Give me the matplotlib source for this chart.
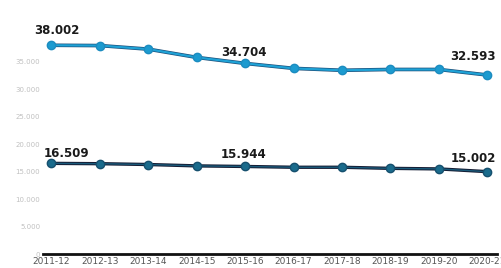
import matplotlib.pyplot as plt
import numpy as np

years = ["2011-12", "2012-13", "2013-14", "2014-15", "2015-16",
         "2016-17", "2017-18", "2018-19", "2019-20", "2020-21"]
top_values = [38002, 37950, 37300, 35800, 34704, 33800, 33450, 33600, 33600, 32593]
bottom_values = [16509, 16450, 16300, 16050, 15944, 15800, 15800, 15600, 15500, 15002]
y_ticks = [0, 5000, 10000, 15000, 20000, 25000, 30000, 35000]
labels_top = {0: "38.002", 4: "34.704", 9: "32.593"}
labels_bottom = {0: "16.509", 4: "15.944", 9: "15.002"}

# label offsets in points (dx, dy) from the marker
offs_top = {0: (4, 6), 4: (-1, 3.5), 9: (-10, 8.5)}
offs_bottom = {0: (11, 2.5), 4: (-1, 4), 9: (-10, 5)}

fig = plt.figure(figsize=(5.01, 2.68), dpi=100)
ax = fig.add_axes([0.086, 0.052, 0.906, 0.82])

x = np.arange(len(years))
ax.plot(x, top_values, color="#1b4f7a", lw=2.6, zorder=2)
ax.plot(x, top_values, color="#1fa2d6", lw=1.6, marker="o", ms=6,
        mfc="#1c9bd0", mec="#1c8cc0", zorder=3)
ax.plot(x, bottom_values, color="#141c33", lw=2.4, zorder=2)
ax.plot(x, bottom_values, color="#1a5a7a", lw=1.0, marker="o", ms=6,
        mfc="#1a6b8c", mec="#16506e", zorder=3)

for i, t in labels_top.items():
    ax.annotate(t, (x[i], top_values[i]), xytext=offs_top[i], textcoords="offset points",
                ha="center", va="bottom", fontsize=8.5, fontweight="bold", color="#1a1a1a")
for i, t in labels_bottom.items():
    ax.annotate(t, (x[i], bottom_values[i]), xytext=offs_bottom[i], textcoords="offset points",
                ha="center", va="bottom", fontsize=8.5, fontweight="bold", color="#1a1a1a")

ax.set_xlim(-0.17, 9.2)
ax.set_ylim(0, 40000)
ax.set_xticks(x)
ax.set_xticklabels(years, fontsize=6.5, color="#555555")
ax.set_yticks(y_ticks)
ax.set_yticklabels([f"{v:,}".replace(",", ".") for v in y_ticks], fontsize=5, color="#c0c0c0")
ax.tick_params(length=0, pad=2)
for s in ["top", "right", "left"]:
    ax.spines[s].set_visible(False)
ax.spines["bottom"].set_linewidth(2)
ax.spines["bottom"].set_color("#111111")

fig.savefig("out.png", dpi=100)
